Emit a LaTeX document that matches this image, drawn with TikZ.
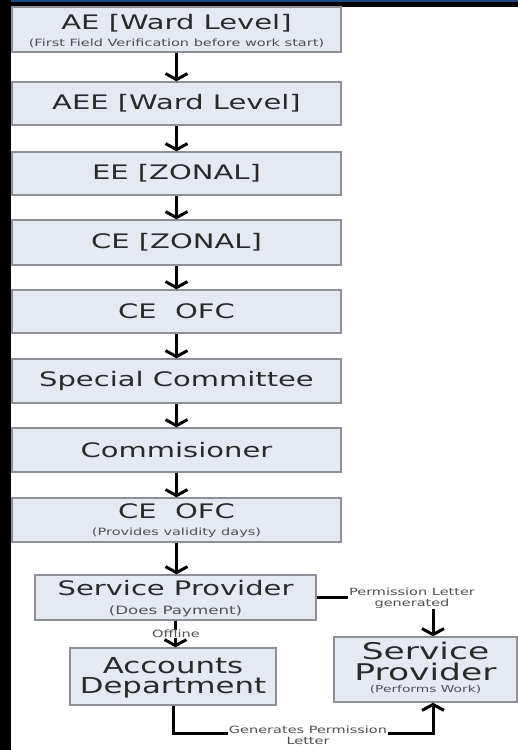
\documentclass[tikz,border=0pt]{standalone}
\usepackage{fontspec}
\setmainfont{DejaVu Sans}
\newfontfamily\ttlfont[FakeStretch=1.45]{DejaVu Sans}
\newfontfamily\subfont[FakeStretch=1.45]{DejaVu Sans}
\newfontfamily\bigfont[FakeStretch=1.4]{DejaVu Sans}
\newfontfamily\bigrfont[FakeStretch=1.5]{DejaVu Sans}
\usetikzlibrary{arrows.meta}
\definecolor{boxfill}{HTML}{E5E9F4}
\definecolor{boxline}{HTML}{8E9099}
\definecolor{txt}{HTML}{2A2A2A}
\definecolor{subtxt}{HTML}{505050}
\definecolor{topblue}{HTML}{1C4A80}
\begin{document}
\begin{tikzpicture}[x=1pt,y=-1pt,
  box/.style={draw=boxline, fill=boxfill, line width=1.4pt, inner sep=0pt, anchor=center, text=txt, font=\ttlfont\fontsize{20}{22}\selectfont},
  ttl/.style={text=txt, font=\ttlfont\fontsize{20}{22}\selectfont, inner sep=0pt},
  sub/.style={text=subtxt, font=\subfont\fontsize{10}{12}\selectfont, inner sep=0.5pt},
  big/.style={text=txt, font=\bigfont\fontsize{22}{24}\selectfont, inner sep=0pt},
  bigr/.style={text=txt, font=\bigrfont\fontsize{23}{25}\selectfont, inner sep=0pt},
  arr/.style={line width=3pt, -{Straight Barb[length=6pt,width=22pt]}},
  conn/.style={line width=3pt}]
\useasboundingbox (0,0) rectangle (518,750);
\fill[white] (0,0) rectangle (518,750);
\fill[black] (0,0) rectangle (518,6.5);
\fill[topblue] (0,0) rectangle (518,2);
\fill[black] (0,0) rectangle (11,750);

% main column
\node[box, minimum width=329pt, minimum height=45pt] (ae) at (176.5,29.5) {};
\node[ttl] (aet) at (176.5,23) {AE [Ward Level]};
\node[sub] (aes) at (176.5,43) {(First Field Verification before work start)};
\node[box, minimum width=329pt, minimum height=43pt] (aee) at (176.5,103.5) {AEE [Ward Level]};
\node[box, minimum width=329pt, minimum height=43pt] (ee) at (176.5,173.5) {EE [ZONAL]};
\node[box, minimum width=329pt, minimum height=45pt] (cez) at (176.5,242.5) {CE [ZONAL]};
\node[box, minimum width=329pt, minimum height=43pt] (ceo) at (176.5,311.5) {CE\ \ OFC};
\node[box, minimum width=329pt, minimum height=44pt] (sc) at (176.5,381) {Special Committee};
\node[box, minimum width=329pt, minimum height=44pt] (com) at (176.5,450) {Commisioner};
\node[box, minimum width=329pt, minimum height=44pt] (ceo2) at (176.5,520) {};
\node[ttl] (ceo2t) at (176.5,511) {CE\ \ OFC};
\node[sub] (ceo2s) at (176.5,533) {(Provides validity days)};

% service provider
\node[box, minimum width=281pt, minimum height=45pt] (sp) at (175.5,597.5) {};
\node[ttl] (spt) at (175.5,588) {Service Provider};
\node[sub, font=\subfont\fontsize{11.5}{13}\selectfont] (sps) at (175.5,611) {(Does Payment)};

% accounts
\node[box, minimum width=206pt, minimum height=57pt] (acc) at (173,676.5) {};
\node[big] (acct1) at (173,666) {Accounts};
\node[big] (acct2) at (173,688) {Department};

% service provider performs work
\node[box, minimum width=183pt, minimum height=65pt] (spr) at (425.5,669.5) {};
\node[bigr] (sprt1) at (425.5,651) {Service};
\node[bigr] (sprt2) at (425.5,672) {Provider};
\node[sub, font=\subfont\fontsize{9.5}{11}\selectfont] (sprs) at (425.5,690) {(Performs Work)};

% main arrows
\foreach \a/\b in {ae/aee, aee/ee, ee/cez, cez/ceo, ceo/sc, sc/com, com/ceo2}
  \draw[arr] (\a.south) -- (\b.north);
\draw[arr] (ceo2.south) -- (ceo2.south |- sp.north);

% offline
\draw[arr] (sp.south) -- (sp.south |- acc.north);
\node[sub, fill=white] (off) at (176,634) {Offline};

% permission letter generated
\node[sub, align=center, font=\subfont\fontsize{10}{11}\selectfont] (plbl) at (412,598) {Permission Letter\\generated};
\coordinate (pa) at (433,0);
\draw[conn] (sp.east) -- (sp.east -| plbl.west);
\draw[arr] (plbl.south -| pa) -- (pa |- spr.north);

% generates permission letter
\node[sub, align=center, font=\subfont\fontsize{10}{11}\selectfont] (glbl) at (308,735) {Generates Permission\\Letter};
\coordinate (gy) at (0,733);
\draw[conn] (acc.south) |- (glbl.west |- gy);
\draw[arr] (glbl.east |- gy) -| (pa |- spr.south);
\end{tikzpicture}
\end{document}
